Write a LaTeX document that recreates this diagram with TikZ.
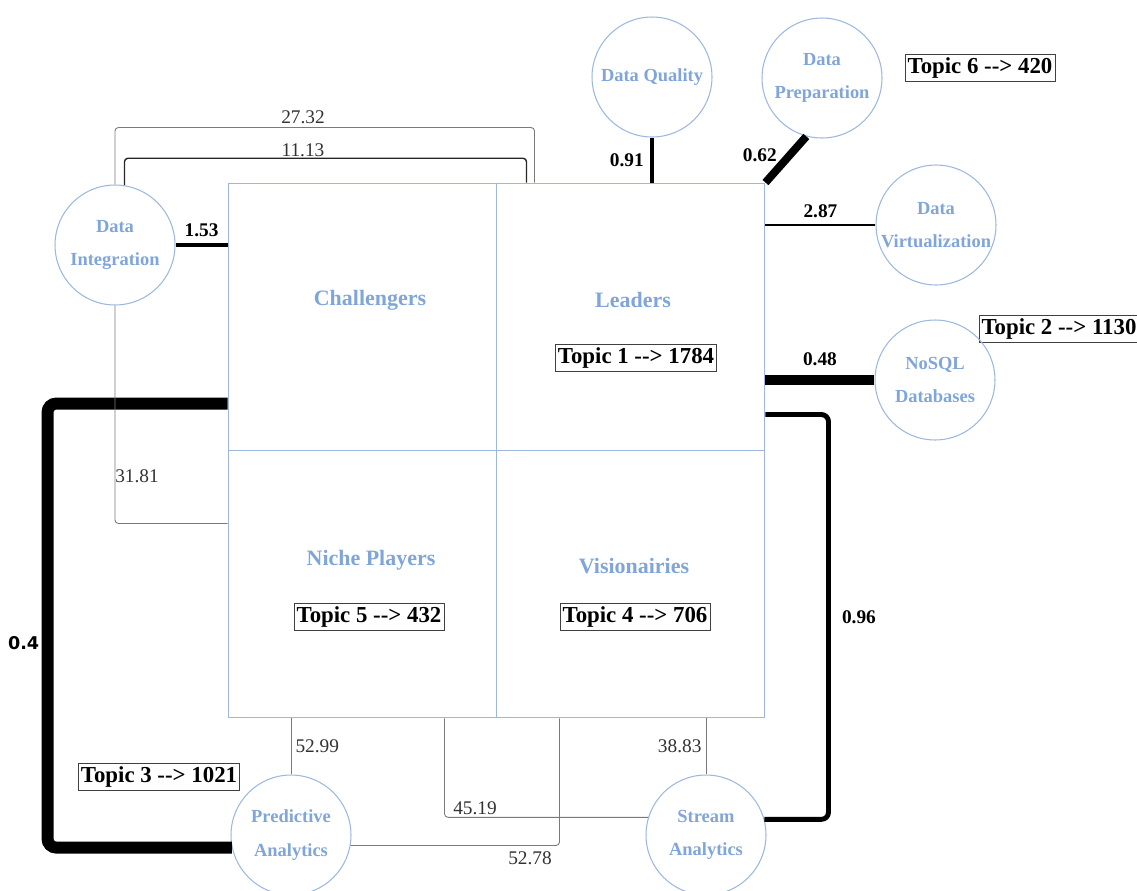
\documentclass[tikz,border=0pt]{standalone}
\usepackage{fontspec}
\setmainfont{Liberation Serif}
\newfontfamily\labelsans{DejaVu Sans}
\usepackage{tikz}
\usetikzlibrary{positioning,calc}
\definecolor{quadc}{HTML}{9DB7DD}
\definecolor{labelc}{HTML}{7FA5D9}
\definecolor{linkc}{HTML}{7A7A7A}
\newcommand{\topicarr}{-{}-{}>}

\begin{document}
\begin{tikzpicture}[x=0.02cm,y=-0.02cm,
  area/.style={circle,draw=quadc,line width=0.6pt,minimum size=2.4cm,inner sep=0pt,align=center,
    text=labelc,font=\fontsize{10.5}{19}\selectfont\bfseries},
  quadname/.style={text=labelc,font=\fontsize{12.5}{15}\selectfont\bfseries},
  topic/.style={draw=black!75,line width=0.45pt,inner sep=1.5pt,minimum height=0.54cm,
    font=\fontsize{13}{15}\selectfont\bfseries},
  val/.style={text=black!80,font=\fontsize{11}{13}\selectfont},
  valb/.style={font=\fontsize{11}{13}\selectfont\bfseries},
  thin link/.style={draw=linkc,line width=0.5pt,rounded corners=2pt}]
  \useasboundingbox (0,0) rectangle (1137,890);

  % magic quadrant
  \node[draw=quadc,line width=0.6pt,minimum width=10.74cm,minimum height=10.7cm,inner sep=0pt] (quad) at (496.5,450.5) {};
  \draw[quadc,line width=0.6pt] (quad.north) -- (quad.south) (quad.west) -- (quad.east);
  \node[quadname] (chal) at (370,300) {Challengers};
  \node[quadname] (lead) at (633,300) {Leaders};
  \node[quadname] (niche) at (371,560) {Niche Players};
  \node[quadname] (vis) at (634,566) {Visionairies};

  \node[topic] (t1) at (636,358) {Topic 1 \topicarr{} 1784};
  \node[topic] (t2) at (1059,329) {Topic 2 \topicarr{} 1130};
  \node[topic] (t3) at (159,777) {Topic 3 \topicarr{} 1021};
  \node[topic] (t4) at (635,617) {Topic 4 \topicarr{} 706};
  \node[topic] (t5) at (369,617) {Topic 5 \topicarr{} 432};
  \node[topic] (t6) at (980,68) {Topic 6 \topicarr{} 420};

  \node[area] (di) at (115,245) {Data\\Integration};
  \node[area] (dq) at (652,77) {Data Quality};
  \node[area] (dp) at (822,78) {Data\\Preparation};
  \node[area] (dv) at (936,225) {Data\\Virtualization};
  \node[area] (nosql) at (935,380) {NoSQL\\Databases};
  \node[area] (pa) at (291,835) {Predictive\\Analytics};
  \node[area] (sa) at (706,835) {Stream\\Analytics};

  % weighted links
  \draw[line width=2.3pt] (di.east) -- (di.east -| quad.west) node[valb,midway,above] {1.53};
  \draw[line width=2.8pt] (dq.south) -- (dq.south |- quad.north) node[valb,midway,left] {0.91};
  \draw[line width=4.5pt] (quad.north east) -- (dp.-105) node[valb,pos=0.6,left=2pt] {0.62};
  \draw[line width=1.1pt] (dv.west) -- (dv.west -| quad.east) node[valb,midway,above] {2.87};
  \draw[line width=5.7pt] (nosql.west) -- (nosql.west -| quad.east) node[valb,midway,above=2pt] {0.48};
  \draw[line width=2.8pt,rounded corners=4pt] ($(quad.north east)+(0,232)$) -- ++(63,0) |- (sa.15)
    node[valb,pos=0.25,right=3pt] {0.96};
  \draw[line width=6.8pt,rounded corners=5pt] ($(quad.north west)+(0,221)$) -- ++(-180,0) |- (pa.192)
    node[pos=0.27,left=-2pt,font=\labelsans\bfseries\fontsize{10}{12}\selectfont] {0.4};

  % distances
  \draw[thin link] (di.north) -- ++(0,-57) -| ($(quad.north west)+(307,0)$);
  \node[val] at (303,117) {27.32};
  \draw[thin link,draw=black!85,line width=0.8pt] (di.81) -- ++(0,-27) -| ($(quad.north west)+(299,0)$);
  \node[val] at (303,150) {11.13};
  \draw[thin link] (di.south) |- ($(quad.north west)+(0,341)$);
  \node[val] at (137,476) {31.81};
  \draw[thin link] (pa.north) -- (pa.north |- quad.south) node[val,midway,right=-1pt] {52.99};
  \draw[thin link] ($(quad.south west)+(217,0)$) |- (sa.163);
  \node[val] at (475,808) {45.19};
  \draw[thin link] ($(quad.south west)+(332,0)$) |- (pa.-10);
  \node[val] at (530,858) {52.78};
  \draw[thin link] (sa.north) -- (sa.north |- quad.south) node[val,midway,left=-1pt] {38.83};
\end{tikzpicture}
\end{document}
